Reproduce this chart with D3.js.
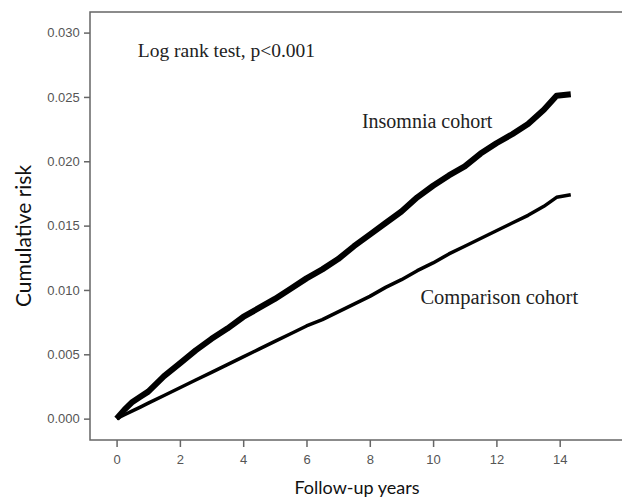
<!DOCTYPE html>
<html>
<head>
<meta charset="utf-8">
<script src="https://cdn.jsdelivr.net/npm/d3@7/dist/d3.min.js"></script>
<style>
  body { margin: 0; background: #fff; }
  .axis path, .axis line { stroke: #666; stroke-width: 1.5; }
  .axis text { fill: #555; font-family: "Liberation Sans", Arial, sans-serif; font-size: 13px; }
</style>
</head>
<body>
<div id="vis"></div>
<script>
// follow-up years and cumulative risk
var years = [0, 0.25, 0.5, 0.75, 1, 1.5, 2, 2.5, 3, 3.5, 4, 4.5, 5, 5.5, 6, 6.5, 7, 7.5, 8,
  8.5, 9, 9.5, 10, 10.5, 11, 11.5, 12, 12.5, 13, 13.5, 13.9, 14.35];
var insomnia = [0, 0.0007, 0.0013, 0.0017, 0.0021, 0.0033, 0.0043, 0.0053, 0.0062, 0.0070,
  0.0079, 0.0086, 0.0093, 0.0101, 0.0109, 0.0116, 0.0124, 0.0134, 0.0143, 0.0152, 0.0161,
  0.0172, 0.0181, 0.0189, 0.0196, 0.0206, 0.0214, 0.0221, 0.0229, 0.0240, 0.0251, 0.0252];
var comparison = [0, 0.0003, 0.0006, 0.0009, 0.0012, 0.0018, 0.0024, 0.0030, 0.0036, 0.0042,
  0.0048, 0.0054, 0.0060, 0.0066, 0.0072, 0.0077, 0.0083, 0.0089, 0.0095, 0.0102, 0.0108,
  0.0115, 0.0121, 0.0128, 0.0134, 0.0140, 0.0146, 0.0152, 0.0158, 0.0165, 0.0172, 0.0174];
var xTicks = [0, 2, 4, 6, 8, 10, 12, 14];
var yTicks = [0, 0.005, 0.010, 0.015, 0.020, 0.025, 0.030];

var width = 533;
var height = 428;
var margin = { top: 12, left: 90, bottom: 60, right: 0 };

var svg = d3.select('#vis').append('svg')
  .attr('width', 622)
  .attr('height', 500);

var g = svg.append('g')
  .attr('transform', 'translate(' + margin.left + ',' + margin.top + ')');

var x = d3.scaleLinear().domain([-0.84, 16]).range([0, width]);
var y = d3.scaleLinear().domain([-0.00166, 0.0316]).range([height, 0]);

// frame
g.append('rect')
  .attr('x', 0).attr('y', 0)
  .attr('width', width).attr('height', height)
  .attr('fill', 'none')
  .attr('stroke', '#666')
  .attr('stroke-width', 1.5);

var xAxis = d3.axisBottom(x).tickValues(xTicks).tickSize(7).tickSizeOuter(0)
  .tickFormat(d3.format('d'));
var yAxis = d3.axisLeft(y).tickValues(yTicks).tickSize(6).tickSizeOuter(0)
  .tickFormat(d3.format('.3f'));

g.append('g')
  .attr('class', 'x axis')
  .attr('transform', 'translate(0,' + height + ')')
  .call(xAxis)
  .call(function (s) { s.select('.domain').remove(); })
  .selectAll('text').attr('dy', '1.1em');

g.append('g')
  .attr('class', 'y axis')
  .call(yAxis)
  .call(function (s) { s.select('.domain').remove(); })
  .selectAll('text').attr('dx', '-0.1em');

var line = d3.line()
  .x(function (d) { return x(d[0]); })
  .y(function (d) { return y(d[1]); });

g.append('path')
  .datum(d3.zip(years, comparison))
  .attr('d', line)
  .attr('fill', 'none')
  .attr('stroke', '#000')
  .attr('stroke-width', 3.5)
  .attr('stroke-linejoin', 'round');

g.append('path')
  .datum(d3.zip(years, insomnia))
  .attr('d', line)
  .attr('fill', 'none')
  .attr('stroke', '#000')
  .attr('stroke-width', 6)
  .attr('stroke-linejoin', 'round');

// annotations
var serif = '"Liberation Serif", "Times New Roman", serif';
g.append('text')
  .attr('x', x(0.67)).attr('y', y(0.0281))
  .style('font-family', serif).style('font-size', '19.5px').attr('fill', '#222')
  .text('Log rank test, p<0.001');
g.append('text')
  .attr('x', x(7.75)).attr('y', y(0.0226))
  .style('font-family', serif).style('font-size', '20px').attr('fill', '#222')
  .text('Insomnia cohort');
g.append('text')
  .attr('x', x(9.6)).attr('y', y(0.0089))
  .style('font-family', serif).style('font-size', '20.5px').attr('fill', '#222')
  .text('Comparison cohort');

// axis titles
svg.append('text')
  .attr('x', 357).attr('y', 494)
  .attr('text-anchor', 'middle')
  .style('font-family', 'Lato, "Open Sans", sans-serif').style('font-size', '18px')
  .attr('fill', '#111')
  .text('Follow-up years');

svg.append('text')
  .attr('transform', 'translate(31,236) rotate(-90)')
  .attr('text-anchor', 'middle')
  .style('font-family', 'Lato, "Open Sans", sans-serif').style('font-size', '21px')
  .attr('fill', '#111')
  .text('Cumulative risk');
</script>
</body>
</html>
